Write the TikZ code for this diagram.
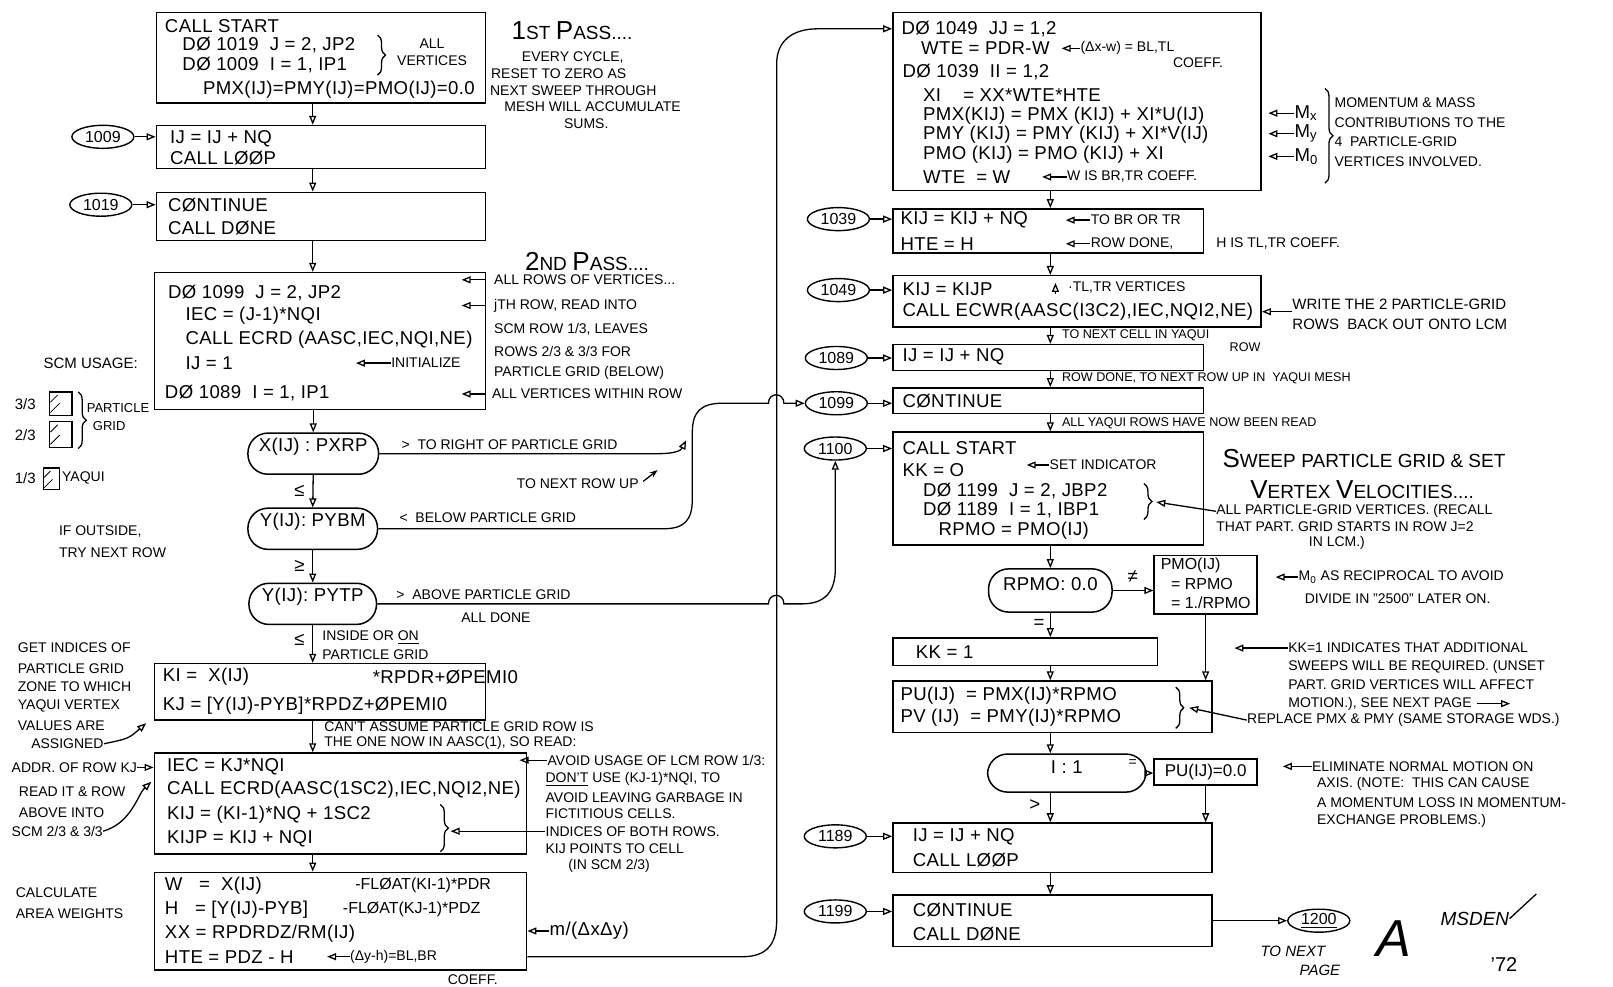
\documentclass[tikz,border=0pt]{standalone}
\usepackage{fontspec}
\setmainfont{Liberation Sans}
\newfontfamily\handfont[LetterSpace=2]{Liberation Sans}
\usetikzlibrary{positioning,arrows.meta,shapes.geometric,fit,decorations.pathreplacing}

\newcommand{\bigsmall}[2]{{\fontsize{13}{14}\selectfont #1}{\fontsize{9.5}{10}\selectfont #2}}

\tikzset{
  box/.style={draw,line width=0.75pt,inner sep=0pt},
  dec/.style={draw,line width=0.75pt,rounded corners=10pt,inner sep=0pt,font=\handfont\fontsize{9.3}{10}\selectfont},
  lbl/.style={draw,ellipse,line width=0.7pt,inner sep=0pt,minimum width=31pt,minimum height=11.5pt,font=\fontsize{8}{8}\selectfont},
  code/.style={anchor=west,inner sep=0pt,font=\handfont\fontsize{9.3}{10}\selectfont},
  note/.style={anchor=west,inner sep=0pt,font=\fontsize{7}{8}\selectfont},
  small/.style={anchor=west,inner sep=0pt,font=\fontsize{6.3}{7}\selectfont},
  head/.style={anchor=west,inner sep=0pt},
  arr/.style={-{Triangle[open,length=4.5pt,width=3.5pt]},line width=0.65pt},
  wire/.style={line width=0.65pt},
  brc/.style={decorate,decoration={brace,amplitude=4pt},line width=0.65pt}
}

\begin{document}
\begin{tikzpicture}[x=0.5144pt,y=-0.5144pt]
\useasboundingbox (0,0) rectangle (1568,959);
\coordinate (axL) at (304,0);
\coordinate (axR) at (1021,0);

% ---------------- first pass
\node[box,fit={(152,12) (472,100)}] (bStart) {};
\node[code] (a1) at (160,25) {CALL START};
\node[code] (a2) at (177,44) {DØ 1019\ \ J = 2, JP2};
\node[code] (a3) at (177,63) {DØ 1009\ \ I = 1, IP1};
\draw[brc] (367,34) -- (367,73);
\node[note,anchor=center] (a4) at (420,42) {ALL};
\node[note,anchor=center] (a5) at (420,59) {VERTICES};
\node[code] (a6) at (197,87) {PMX(IJ)=PMY(IJ)=PMO(IJ)=0.0};

\node[head] (h1) at (497,30) {\bigsmall{1}{ST} \bigsmall{P}{ASS....}};
\node[note] (n1) at (507,56) {EVERY CYCLE,};
\node[note] (n2) at (477,72) {RESET TO ZERO AS};
\node[note] (n3) at (476,88) {NEXT SWEEP THROUGH};
\node[note] (n4) at (490,104) {MESH WILL ACCUMULATE};
\node[note] (n5) at (548,120) {SUMS.};

\node[lbl] (o1009) at (100,133) {1009};
\node[box,fit={(152,122) (472,164)}] (bLoopA) {};
\node[code] (b1) at (165,135) {IJ = IJ + NQ};
\node[code] (b2) at (165,154) {CALL LØØP};
\node[lbl] (o1019) at (98,199) {1019};
\node[box,fit={(152,187) (472,234)}] (bDoneA) {};
\node[code] (c1) at (163,199) {CØNTINUE};
\node[code] (c2) at (163,222) {CALL DØNE};

% ---------------- second pass
\node[box,fit={(150,265) (472,398)}] (bRead) {};
\node[code] (d1) at (163,285) {DØ 1099\ \ J = 2, JP2};
\node[code] (d2) at (180,307) {IEC = (J-1)*NQI};
\node[code] (d3) at (180,330) {CALL ECRD (AASC,IEC,NQI,NE)};
\node[code] (d4) at (180,353) {IJ = 1};
\node[note] (d5) at (380,353) {INITIALIZE};
\node[code] (d6) at (160,382) {DØ 1089\ \ I = 1, IP1};
\draw[arr] (d5.west) -- ++(-34,0);

\node[head] (h2) at (510,254) {\bigsmall{2}{ND} \bigsmall{P}{ASS....}};
\node[note] (n6) at (480,272) {ALL ROWS OF VERTICES...};
\node[note] (n7) at (480,297) {jTH ROW, READ INTO};
\node[note] (n8) at (480,320) {SCM ROW 1/3, LEAVES};
\node[note] (n9) at (480,342) {ROWS 2/3 \& 3/3 FOR};
\node[note] (n10) at (480,362) {PARTICLE GRID (BELOW)};
\node[note] (n11) at (478,383) {ALL VERTICES WITHIN ROW};
\foreach \n in {n6,n7,n11} \draw[arr] (bRead.east |- \n) -- ++(-24,0);

% scm usage sketch
\node[note,font=\fontsize{7.5}{8}\selectfont] (s0) at (42,353) {SCM USAGE:};
\node[note,font=\fontsize{7.5}{8}\selectfont] (s1) at (14,393) {3/3};
\node[note,font=\fontsize{7.5}{8}\selectfont] (s2) at (14,423) {2/3};
\node[note,font=\fontsize{7.5}{8}\selectfont] (s3) at (14,465) {1/3};
\draw[wire] (48,381) rectangle (70,404);
\draw[wire] (48,410) rectangle (70,435);
\draw[wire] (42,455) rectangle (58,476);
\draw[thin] (49,391) -- (56,384) (49,401) -- (58,392) (49,420) -- (56,413) (49,432) -- (58,423) (43,464) -- (49,458) (43,474) -- (51,466);
\draw[brc] (76,381) -- (76,436);
\node[note,font=\fontsize{6.5}{7}\selectfont] (s4) at (84,397) {PARTICLE};
\node[note,font=\fontsize{6.5}{7}\selectfont] (s5) at (90,414) {GRID};
\node[note] (s6) at (60,465) {YAQUI};

% ---------------- tests
\node[dec,fit={(241,421) (368,461)}] (dRight) {X(IJ) : PXRP};
\node[dec,fit={(241,494) (367,534)}] (dBelow) {Y(IJ): PYBM};
\node[dec,fit={(242,567) (366,607)}] (dAbove) {Y(IJ): PYTP};
\draw[arr] (bRead.south -| dRight) -- (dRight.north);
\draw[arr] (dRight.south) -- (dBelow.north);
\draw[arr] (dBelow.south) -- (dAbove.north);
\node[code,anchor=center] (le1) at (291,477) {≤};
\node[code,anchor=center] (le2) at (291,550) {≥};
\node[code,anchor=center] (le3) at (291,622) {≤};

\node[note] (r1) at (390,432) {>\ \ TO RIGHT OF PARTICLE GRID};
\node[note] (r2) at (502,470) {TO NEXT ROW UP};
\draw[wire,-{Stealth[length=4pt]}] (r2.east) ++(4,-2) -- ++(14,-11);
\node[note] (r3) at (388,503) {<\ \ BELOW PARTICLE GRID};
\node[note] (r4) at (385,578) {>\ \ ABOVE PARTICLE GRID};
\node[note] (r5) at (448,600) {ALL DONE};
\node[note] (g1) at (313,620) {INSIDE OR \underline{ON}};
\node[note] (g2) at (313,636) {PARTICLE GRID};
\node[note] (g3) at (57,517) {IF OUTSIDE,};
\node[note] (g4) at (57,537) {TRY NEXT ROW};

% ---------------- indices
\node[box,fit={(150,645) (472,700)}] (bIdx) {};
\node[code] (i1) at (158,658) {KI =\ \ X(IJ)};
\node[code] (i2) at (362,658) {*RPDR+ØPEMI0};
\node[code] (i3) at (158,686) {KJ = [Y(IJ)-PYB]*RPDZ+ØPEMI0};
\draw[arr] (dAbove.south) -- (bIdx.north -| dAbove);
\node[note] (l1) at (17,630) {GET INDICES OF};
\node[note] (l2) at (17,650) {PARTICLE GRID};
\node[note] (l3) at (17,668) {ZONE TO WHICH};
\node[note] (l4) at (17,686) {YAQUI VERTEX};
\node[note] (l5) at (17,705) {VALUES ARE};
\node[note] (l6) at (30,723) {ASSIGNED};
\draw[arr] (l6.east) .. controls (125,718) .. (142,703);
\node[note] (q1) at (315,706) {CAN'T ASSUME PARTICLE GRID ROW IS};
\node[note] (q2) at (315,722) {THE ONE NOW IN AASC(1), SO READ:};

% ---------------- read rows
\node[box,fit={(150,732) (512,830)}] (bRow) {};
\node[code] (p5) at (162,745) {IEC = KJ*NQI};
\node[code] (p6) at (162,768) {CALL ECRD(AASC(1SC2),IEC,NQI2,NE)};
\node[code] (p7) at (162,792) {KIJ = (KI-1)*NQ + 1SC2};
\node[code] (p8) at (162,815) {KIJP = KIJ + NQI};
\draw[brc] (428,782) -- (428,828);
\draw[arr] (bIdx.south -| axL) -- (bRow.north -| axL);
\node[note] (p1) at (11,746) {ADDR. OF ROW KJ};
\draw[arr] (p1.east) -- (p1 -| bRow.west);
\node[note] (p2) at (18,770) {READ IT \& ROW};
\node[note] (p3) at (18,790) {ABOVE INTO};
\node[note] (p4) at (11,808) {SCM 2/3 \& 3/3};
\draw[arr] (p4.east) .. controls (128,800) and (134,772) .. (147,760);
\node[note] (m1) at (532,739) {AVOID USAGE OF LCM ROW 1/3:};
\draw[arr] (m1.west) -- ++(-27,0);
\node[note] (m2) at (530,758) {\underline{DON'T} USE (KJ-1)*NQI, TO};
\node[note] (m3) at (530,775) {AVOID LEAVING GARBAGE IN};
\node[note] (m4) at (530,791) {FICTITIOUS CELLS.};
\node[note] (m5) at (530,808) {INDICES OF BOTH ROWS.};
\draw[arr] (m5.west) -- ++(-92,0);
\node[note] (m6) at (530,825) {KIJ POINTS TO CELL};
\node[note] (m7) at (552,842) {(IN SCM 2/3)};

% ---------------- area weights
\node[box,fit={(150,848) (512,943)}] (bArea) {};
\node[code] (k1) at (160,861) {W\ \ \ =\ \ X(IJ)};
\node[note,font=\fontsize{8}{8}\selectfont] (k1b) at (345,861) {-FLØAT(KI-1)*PDR};
\node[code] (k2) at (160,884) {H\ \ \ = [Y(IJ)-PYB]};
\node[note,font=\fontsize{8}{8}\selectfont] (k2b) at (333,884) {-FLØAT(KJ-1)*PDZ};
\node[code] (k3) at (160,908) {XX = RPDRDZ/RM(IJ)};
\node[code] (k4) at (160,930) {HTE = PDZ - H};
\node[note] (k5) at (340,930) {(Δy-h)=BL,BR};
\draw[arr] (k5.west) -- ++(-22,0);
\node[note] (k6) at (435,952) {COEFF.};
\node[note] (k7) at (15,868) {CALCULATE};
\node[note] (k8) at (15,888) {AREA WEIGHTS};
\node[code] (k9) at (534,905) {m/(ΔxΔy)};
\draw[arr] (k9.west) -- (k9 -| bArea.east);
\draw[arr] (bRow.south -| axL) -- (bArea.north -| axL);

% ---------------- right column
\node[box,fit={(868,12) (1226,185)}] (bWeigh) {};
\node[code] (e1) at (876,28) {DØ 1049\ \ JJ = 1,2};
\node[code] (e2) at (895,47) {WTE = PDR-W};
\node[note] (e3) at (1050,47) {(Δx-w) = BL,TL};
\draw[arr] (e3.west) -- ++(-18,0);
\node[note] (e4) at (1140,61) {COEFF.};
\node[code] (e5) at (877,70) {DØ 1039\ \ II = 1,2};
\node[code] (e6) at (897,92) {XI\ \ \ \ = XX*WTE*HTE};
\node[code] (e7) at (897,112) {PMX(KIJ) = PMX (KIJ) + XI*U(IJ)};
\node[code] (e8) at (897,131) {PMY (KIJ) = PMY (KIJ) + XI*V(IJ)};
\node[code] (e9) at (897,150) {PMO (KIJ) = PMO (KIJ) + XI};
\node[code] (e10) at (897,172) {WTE\ \ = W};
\node[note] (e11) at (1037,172) {W IS BR,TR COEFF.};
\draw[arr] (e11.west) -- ++(-24,0);
\node[code] (f1) at (1258,110) {M\textsubscript{x}};
\node[code] (f2) at (1258,130) {M\textsubscript{y}};
\node[code] (f3) at (1258,152) {M\textsubscript{0}};
\foreach \n in {f1,f2,f3} \draw[arr] (\n.west) -- ++(-25,0);
\draw[brc] (1288,86) -- (1288,178);
\node[note] (f4) at (1297,100) {MOMENTUM \& MASS};
\node[note] (f5) at (1297,119) {CONTRIBUTIONS TO THE};
\node[note] (f6) at (1297,138) {4\ \ PARTICLE-GRID};
\node[note] (f7) at (1297,157) {VERTICES INVOLVED.};

\node[lbl] (o1039) at (815,213) {1039};
\node[box,fit={(868,203) (1170,246)}] (bNext) {};
\node[code] (u1) at (875,214) {KIJ = KIJ + NQ};
\node[note] (u2) at (1060,214) {TO BR OR TR};
\node[code] (u3) at (875,237) {HTE = H};
\node[note] (u4) at (1060,237) {ROW DONE,};
\foreach \n in {u2,u4} \draw[arr] (\n.west) -- ++(-24,0);
\node[note] (u5) at (1182,237) {H IS TL,TR COEFF.};

\node[lbl] (o1049) at (815,282) {1049};
\node[box,fit={(868,268) (1226,318)}] (bWrite) {};
\node[code] (w1) at (877,281) {KIJ = KIJP};
\node[note] (w2) at (1038,279) {·TL,TR VERTICES};
\draw[arr] (w2.west) ++(-12,7) -- ++(0,-11);
\node[code] (w3) at (877,303) {CALL ECWR(AASC(I3C2),IEC,NQI2,NE)};
\node[note,font=\fontsize{7.5}{8}\selectfont] (w4) at (1256,296) {WRITE THE 2 PARTICLE-GRID};
\node[note,font=\fontsize{7.5}{8}\selectfont] (w5) at (1256,315) {ROWS\ \ BACK OUT ONTO LCM};
\draw[arr] (w4.west |- w3) -- (w3 -| bWrite.east);

\node[small] (x1) at (1032,326) {TO NEXT CELL IN YAQUI};
\node[small] (x2) at (1195,337) {ROW};
\node[lbl] (o1089) at (813,348) {1089};
\node[box,fit={(868,335) (1170,360)}] (bInc) {};
\node[code] (x3) at (877,347) {IJ = IJ + NQ};
\node[small] (x4) at (1032,368) {ROW DONE, TO NEXT ROW UP IN\ \ YAQUI MESH};
\node[lbl] (o1099) at (813,392) {1099};
\node[box,fit={(868,377) (1170,402)}] (bCont) {};
\node[code] (x5) at (877,390) {CØNTINUE};
\node[small] (x6) at (1032,411) {ALL YAQUI ROWS HAVE NOW BEEN READ};

\node[lbl] (o1100) at (812,436) {1100};
\node[box,fit={(868,420) (1170,530)}] (bSweep) {};
\node[code] (v1) at (877,436) {CALL START};
\node[code] (v2) at (877,457) {KK = O};
\node[note] (v3) at (1020,452) {SET INDICATOR};
\draw[arr] (v3.west) -- ++(-22,0);
\node[code] (v4) at (897,477) {DØ 1199\ \ J = 2, JBP2};
\node[code] (v5) at (897,496) {DØ 1189\ \ I = 1, IBP1};
\draw[brc] (1112,470) -- (1112,505);
\node[code] (v6) at (912,516) {RPMO = PMO(IJ)};
\node[head] (v7) at (1188,446) {\bigsmall{S}{WEEP} {\fontsize{9.5}{10}\selectfont PARTICLE GRID \& SET}};
\node[head] (v8) at (1215,476) {\bigsmall{V}{ERTEX} \bigsmall{V}{ELOCITIES....}};
\node[note] (v9) at (1182,497) {ALL PARTICLE-GRID VERTICES. (RECALL};
\node[note] (v10) at (1182,512) {THAT PART. GRID STARTS IN ROW J=2};
\node[note] (v11) at (1272,528) {IN LCM.)};
\draw[arr] (v9.west) -- ++(-58,-9);

\node[dec,fit={(961,553) (1081,595)}] (dRecip) {RPMO: 0.0};
\node[box,fit={(1122,540) (1222,597)}] (bRecip) {};
\node[note,font=\fontsize{8}{8}\selectfont] (y1) at (1128,550) {PMO(IJ)};
\node[note,font=\fontsize{8}{8}\selectfont] (y2) at (1138,568) {= RPMO};
\node[note,font=\fontsize{8}{8}\selectfont] (y3) at (1138,586) {= 1./RPMO};
\node[code,anchor=center] (y4) at (1101,561) {≠};
\node[note] (y5) at (1262,561) {M\textsubscript{0} AS RECIPROCAL TO AVOID};
\draw[arr] (y5.west) -- ++(-22,0);
\node[note] (y6) at (1268,582) {DIVIDE IN "2500" LATER ON.};
\node[code,anchor=center] (y7) at (1010,607) {=};

\node[box,fit={(868,620) (1125,647)}] (bFlag) {};
\node[code] (z1) at (890,634) {KK = 1};
\node[note] (z2) at (1252,630) {KK=1 INDICATES THAT ADDITIONAL};
\draw[arr] (z2.west) -- ++(-52,0);
\node[note] (z3) at (1252,648) {SWEEPS WILL BE REQUIRED. (UNSET};
\node[note] (z4) at (1252,666) {PART. GRID VERTICES WILL AFFECT};
\node[note] (z5) at (1252,684) {MOTION.), SEE NEXT PAGE};
\draw[arr] (z5.east) ++(5,0) -- ++(32,0);

\node[box,fit={(868,662) (1178,712)}] (bVel) {};
\node[code] (t1) at (875,676) {PU(IJ)\ \ = PMX(IJ)*RPMO};
\node[code] (t2) at (875,698) {PV (IJ)\ \ = PMY(IJ)*RPMO};
\draw[brc] (1143,668) -- (1143,708);
\node[note] (t3) at (1212,700) {REPLACE PMX \& PMY (SAME STORAGE WDS.)};
\draw[arr] (t3.west) -- ++(-56,-12);

\node[dec,fit={(960,733) (1114,770)}] (dAxis) {I : 1};
\node[box,fit={(1122,738) (1222,763)}] (bZero) {};
\node[note,font=\fontsize{8.5}{9}\selectfont,anchor=center] (zz) at (bZero) {PU(IJ)=0.0};
\node[note,anchor=center] (y8) at (1101,742) {=};
\node[note] (aa1) at (1275,745) {ELIMINATE NORMAL MOTION ON};
\draw[arr] (aa1.west) -- ++(-28,0);
\node[note] (aa2) at (1280,762) {AXIS. (NOTE:\ \ THIS CAN CAUSE};
\node[note] (aa3) at (1280,780) {A MOMENTUM LOSS IN MOMENTUM-};
\node[note] (aa4) at (1280,798) {EXCHANGE PROBLEMS.)};
\node[code,anchor=center] (y9) at (1006,783) {>};

\node[lbl] (o1189) at (812,813) {1189};
\node[box,fit={(868,800) (1178,848)}] (bLoopB) {};
\node[code] (bb1) at (887,813) {IJ = IJ + NQ};
\node[code] (bb2) at (887,836) {CALL LØØP};
\node[lbl] (o1199) at (812,886) {1199};
\node[box,fit={(868,870) (1178,920)}] (bDoneB) {};
\node[code] (cc1) at (887,885) {CØNTINUE};
\node[code] (cc2) at (887,908) {CALL DØNE};
\node[lbl] (o1200) at (1282,895) {\underline{1200}};
\node[note,font=\fontsize{7.5}{8}\selectfont\itshape] (dd1) at (1225,925) {TO NEXT};
\node[note,font=\fontsize{7.5}{8}\selectfont\itshape] (dd2) at (1263,943) {PAGE};

% signature
\node[font=\fontsize{26}{26}\selectfont\itshape,inner sep=0pt] (sigA) at (1355,912) {A};
\node[font=\fontsize{9.5}{10}\selectfont\itshape,inner sep=0pt,anchor=west] (sigB) at (1400,893) {MSDEN};
\node[font=\fontsize{10}{10}\selectfont,inner sep=0pt] (sigC) at (1462,938) {'72};
\draw[wire] (sigB.east) -- ++(26,-24);

% flow in the left column
\draw[arr] (bStart.south -| axL) -- (bLoopA.north -| axL);
\draw[arr] (bLoopA.south -| axL) -- (bDoneA.north -| axL);
\draw[arr] (bDoneA.south -| axL) -- (bRead.north -| axL);
\draw[arr] (o1009) -- (o1009 -| bLoopA.west);
\draw[arr] (o1019) -- (o1019 -| bDoneA.west);

% exits of the tests
\draw[arr] (dRight.east) -- (640,441) .. controls (656,441) and (662,438) .. (667,428);
\draw[arr] (dBelow.east) -- (645,514) .. controls (666,514) and (673,505) .. (673,485) -- (673,420) .. controls (673,400) and (682,392) .. (702,392) -- (747,392) .. controls (747,381) and (762,381) .. (762,392) -- (o1099.west);
\draw[arr] (dAbove.east) -- (747,587) .. controls (747,576) and (762,576) .. (762,587) -- (780,587) .. controls (802,587) and (812,575) .. (812,553) -- (o1100.south);
\draw[arr] (bArea.east |- k4) -- (722,930) .. controls (745,930) and (755,918) .. (755,895) -- (755,62) .. controls (755,40) and (770,28) .. (795,28) -- (bWeigh.west |- e1);

% flow in the right column
\draw[arr] (bWeigh.south -| axR) -- (bNext.north -| axR);
\draw[arr] (bNext.south -| axR) -- (bWrite.north -| axR);
\draw[arr] (bWrite.south -| axR) -- (bInc.north -| axR);
\draw[arr] (bInc.south -| axR) -- (bCont.north -| axR);
\draw[arr] (bCont.south -| axR) -- (bSweep.north -| axR);
\draw[arr] (bSweep.south -| axR) -- (dRecip.north -| axR);
\draw[arr] (dRecip.east) -- (bRecip.west |- dRecip);
\draw[arr] (dRecip.south -| axR) -- (bFlag.north -| axR);
\draw[arr] (bFlag.south -| axR) -- (bVel.north -| axR);
\draw[arr] (bRecip.south) -- (bVel.north -| bRecip);
\draw[arr] (bVel.south -| axR) -- (dAxis.north -| axR);
\draw[arr] (dAxis.east) -- (bZero.west |- dAxis);
\draw[arr] (dAxis.south -| axR) -- (bLoopB.north -| axR);
\draw[arr] (bZero.south) -- (bLoopB.north -| bZero);
\draw[arr] (bLoopB.south -| axR) -- (bDoneB.north -| axR);
\draw[arr] (bDoneB.east) -- (o1200.west);
\foreach \o/\b in {o1039/bNext,o1049/bWrite,o1089/bInc,o1099/bCont,o1100/bSweep,o1189/bLoopB,o1199/bDoneB}
  \draw[arr] (\o) -- (\o -| \b.west);
\end{tikzpicture}
\end{document}
